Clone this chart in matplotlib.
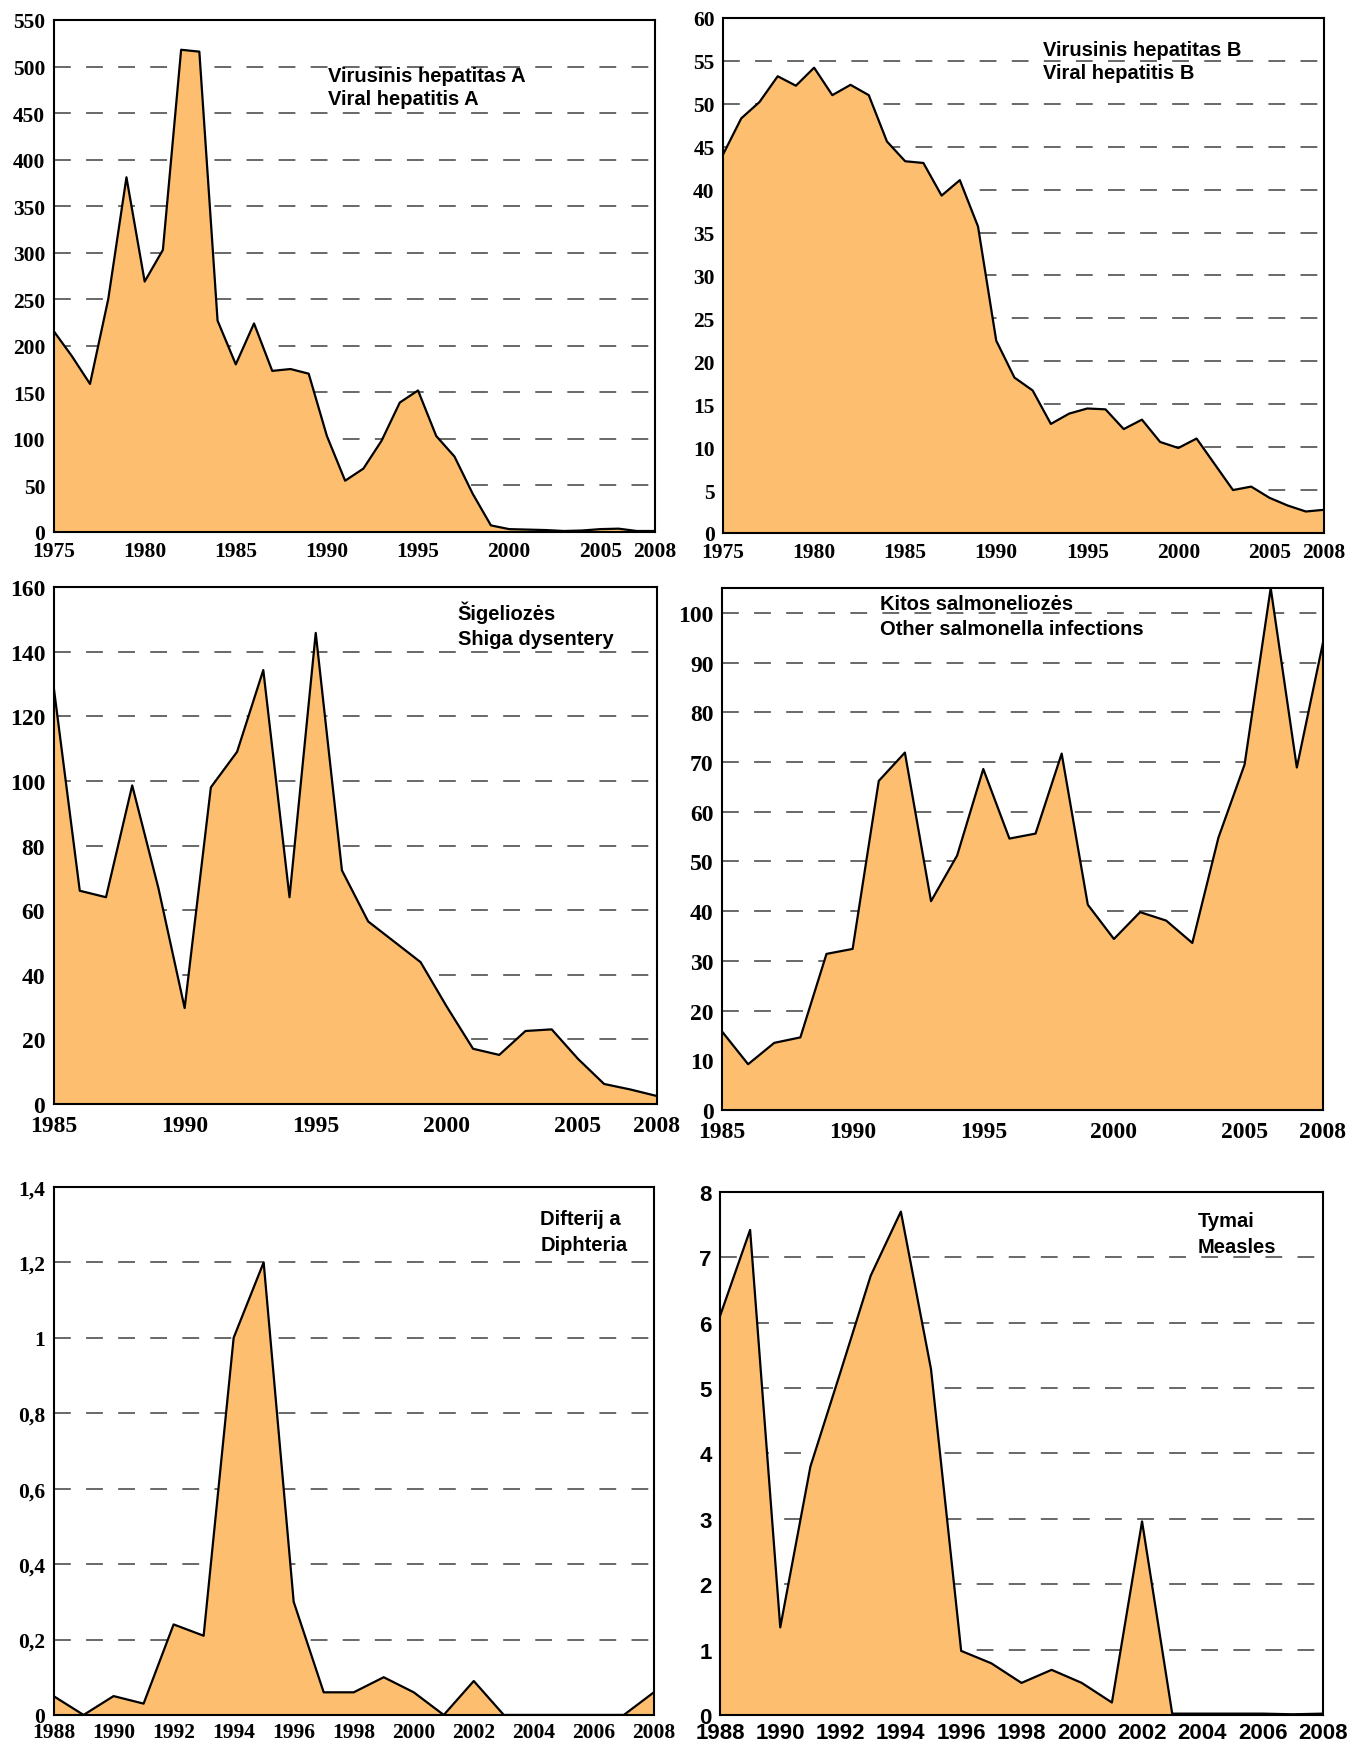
import numpy as np
import matplotlib
matplotlib.use("Agg")
import matplotlib.pyplot as plt
from matplotlib.ticker import FixedLocator, FuncFormatter

# ---- data ----
years_a = list(range(1975, 2009))
hep_a = [216, 189, 159, 250, 381, 269, 303, 518, 516, 227, 180, 224, 173, 175, 170,
         103, 55, 68, 98, 139, 152, 103, 81, 41, 7, 3, 2.5, 2, 1, 1.5, 3, 3.5, 1, 1]

years_b = list(range(1975, 2009))
hep_b = [44.1, 48.3, 50.2, 53.2, 52.1, 54.2, 51.0, 52.2, 51.0, 45.6, 43.3, 43.1, 39.3,
         41.1, 35.7, 22.4, 18.1, 16.6, 12.7, 13.9, 14.5, 14.4, 12.1, 13.2, 10.6, 9.9,
         11.0, 8.0, 5.0, 5.4, 4.1, 3.2, 2.5, 2.7]

years_sh = list(range(1985, 2009))
shiga = [129.4, 66, 64, 98.6, 66.8, 29.7, 98, 109, 134.3, 64, 145.8, 72.3, 56.5, 50.2,
         43.9, 30.1, 17.1, 15.2, 22.6, 23.1, 14, 6.2, 4.5, 2.5]

years_sal = list(range(1985, 2009))
salmonella = [15.8, 9.2, 13.5, 14.6, 31.4, 32.4, 66.2, 71.9, 42.0, 51.2, 68.6, 54.6,
              55.6, 71.7, 41.3, 34.4, 39.8, 38.1, 33.6, 54.8, 69.5, 105, 68.9, 94]

years_d = list(range(1988, 2009))
diphtheria = [0.05, 0, 0.05, 0.03, 0.24, 0.21, 1.0, 1.2, 0.3, 0.06, 0.06, 0.1, 0.06,
              0, 0.09, 0, 0, 0, 0, 0, 0.06]

years_m = list(range(1988, 2009))
measles = [6.1, 7.42, 1.34, 3.8, 5.25, 6.72, 7.7, 5.29, 0.98, 0.79, 0.49, 0.69, 0.49,
           0.19, 2.96, 0.02, 0.02, 0.02, 0.02, 0.01, 0.02]

titles = [
    ("Virusinis hepatitas A", "Viral hepatitis A"),
    ("Virusinis hepatitas B", "Viral hepatitis B"),
    ("Šigeliozės", "Shiga dysentery"),
    ("Kitos salmoneliozės", "Other salmonella infections"),
    ("Difterij a", "Diphteria"),
    ("Tymai", "Measles"),
]

xticks_a = [1975, 1980, 1985, 1990, 1995, 2000, 2005, 2008]
xticks_sh = [1985, 1990, 1995, 2000, 2005, 2008]
xticks_d = list(range(1988, 2009, 2))

yticks_a = list(range(0, 551, 50))
yticks_b = list(range(0, 61, 5))
yticks_sh = list(range(0, 161, 20))
yticks_sal = list(range(0, 101, 10))
yticks_d = [0, 0.2, 0.4, 0.6, 0.8, 1.0, 1.2, 1.4]
yticks_m = list(range(0, 9))

# ---- style ----
FILL = "#FDBF6F"
GRID = "#404040"
serif = "Liberation Serif"
sans = "Liberation Sans"

fig = plt.figure(figsize=(13.49, 17.49), dpi=100)

panels = [
    # rect, years, vals, xticks, yticks, ymax, tick font, tick size, x pad, title pos
    ([0.0397, 0.6953, 0.4458, 0.2927], years_a, hep_a, xticks_a, yticks_a, 550, serif, 15.5, 6.5, 0.456, 0.891, 0.847),
    ([0.5360, 0.6947, 0.4455, 0.2945], years_b, hep_b, xticks_a, yticks_b, 60, serif, 15.5, 6.5, 0.533, 0.938, 0.894),
    ([0.0397, 0.3682, 0.4470, 0.2956], years_sh, shiga, xticks_sh, yticks_sh, 160, serif, 17, 8, 0.670, 0.952, 0.900),
    ([0.5352, 0.3648, 0.4455, 0.2984], years_sal, salmonella, xticks_sh, yticks_sal, 105, serif, 17, 8, 0.263, 0.970, 0.922),
    ([0.0397, 0.0189, 0.4450, 0.3019], years_d, diphtheria, xticks_d, yticks_d, 1.4, serif, 15.5, 5, 0.811, 0.941, 0.891),
    ([0.5337, 0.0189, 0.4470, 0.2990], years_m, measles, xticks_d, yticks_m, 8, sans, 16, 5, 0.792, 0.945, 0.895),
]

for i, (rect, yrs, vals, xt, yt, ymax, tfont, tsize, xpad, tx, ty1, ty2) in enumerate(panels):
    ax = fig.add_axes(rect)
    ax.fill_between(yrs, 0, vals, color=FILL, zorder=2, linewidth=0)
    ax.plot(yrs, vals, color="black", linewidth=1.6, zorder=3)
    ax.set_xlim(yrs[0], yrs[-1])
    ax.set_ylim(0, ymax)

    # dashed horizontal grid behind the area
    for v in yt:
        if 0 < v < ymax:
            ax.axhline(v, color=GRID, linewidth=1.1, dashes=(11, 10), zorder=1)

    ax.xaxis.set_major_locator(FixedLocator(xt))
    ax.yaxis.set_major_locator(FixedLocator(yt))
    if i == 4:
        ax.yaxis.set_major_formatter(FuncFormatter(
            lambda v, p: "0" if v == 0 else ("1" if abs(v - 1) < 1e-9 else f"{v:.1f}".replace(".", ","))))
    else:
        ax.yaxis.set_major_formatter(FuncFormatter(lambda v, p: f"{int(round(v))}"))
    ax.tick_params(length=0, pad=6)
    ax.tick_params(axis="x", pad=xpad)
    for lab in ax.get_xticklabels() + ax.get_yticklabels():
        lab.set_fontfamily(tfont)
        lab.set_fontweight("bold")
        lab.set_fontsize(tsize)

    for s in ax.spines.values():
        s.set_linewidth(1.5)
        s.set_color("black")
        s.set_zorder(4)

    ax.text(tx, ty1, titles[i][0], transform=ax.transAxes, fontfamily=sans,
            fontweight="bold", fontsize=14.5, va="center", ha="left", zorder=5)
    ax.text(tx, ty2, titles[i][1], transform=ax.transAxes, fontfamily=sans,
            fontweight="bold", fontsize=14.5, va="center", ha="left", zorder=5)

fig.savefig("out.png", dpi=100)
